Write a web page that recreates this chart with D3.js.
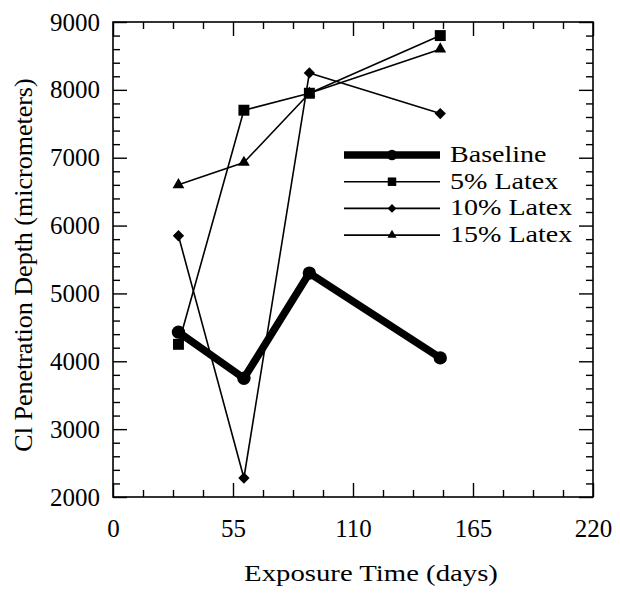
<!DOCTYPE html>
<html><head><meta charset="utf-8">
<script src="https://cdn.jsdelivr.net/npm/d3@7"></script>
<style>
html,body{margin:0;padding:0;background:#fff;}
svg text{font-family:"Liberation Serif","DejaVu Serif",serif;fill:#000;}
</style></head>
<body><svg id="c" width="620" height="597"></svg>
<script>
const days = [30, 60, 90, 150];
const baseline = [4430, 3750, 5300, 4050];
const latex5 = [4250, 7700, 7950, 8800];
const latex10 = [5850, 2280, 8250, 7650];
const latex15 = [6600, 6930, 7950, 8600];
const seriesNames = ["Baseline", "5% Latex", "10% Latex", "15% Latex"];
const xTicks = [0, 55, 110, 165, 220];
const yTicks = [2000, 3000, 4000, 5000, 6000, 7000, 8000, 9000];

const svg = d3.select("#c");
const L = 113, R = 593, T = 22, B = 497;
const x = d3.scaleLinear().domain([0, 220]).range([L, R]);
const y = d3.scaleLinear().domain([2000, 9000]).range([B, T]);

const xMinor = d3.range(0, 220.01, 13.75).filter(v => !xTicks.includes(v));
const yMinor = d3.range(2000, 9000.1, 200).filter(v => v % 1000 !== 0);

function styleAxis(g){ g.select(".domain").remove(); g.selectAll("line").attr("stroke","#000").attr("stroke-width",1.4); }

// bottom
svg.append("g").attr("transform",`translate(0,${B})`)
  .call(d3.axisBottom(x).tickValues(xTicks).tickSize(-14).tickPadding(22).tickFormat(d3.format("d")))
  .call(styleAxis).selectAll("text").attr("font-size",25);
svg.append("g").attr("transform",`translate(0,${B})`)
  .call(d3.axisBottom(x).tickValues(xMinor).tickSize(-7).tickFormat(""))
  .call(styleAxis);
// top
svg.append("g").attr("transform",`translate(0,${T})`)
  .call(d3.axisTop(x).tickValues(xTicks).tickSize(-14).tickFormat(""))
  .call(styleAxis);
svg.append("g").attr("transform",`translate(0,${T})`)
  .call(d3.axisTop(x).tickValues(xMinor).tickSize(-7).tickFormat(""))
  .call(styleAxis);
// left
svg.append("g").attr("transform",`translate(${L},0)`)
  .call(d3.axisLeft(y).tickValues(yTicks).tickSize(-14).tickPadding(13).tickFormat(d3.format("d")))
  .call(styleAxis).selectAll("text").attr("font-size",25);
svg.append("g").attr("transform",`translate(${L},0)`)
  .call(d3.axisLeft(y).tickValues(yMinor).tickSize(-7).tickFormat(""))
  .call(styleAxis);
// right
svg.append("g").attr("transform",`translate(${R},0)`)
  .call(d3.axisRight(y).tickValues(yTicks).tickSize(-14).tickFormat(""))
  .call(styleAxis);
svg.append("g").attr("transform",`translate(${R},0)`)
  .call(d3.axisRight(y).tickValues(yMinor).tickSize(-7).tickFormat(""))
  .call(styleAxis);

// frame
svg.append("rect").attr("x",L).attr("y",T).attr("width",R-L).attr("height",B-T)
  .attr("fill","none").attr("stroke","#000").attr("stroke-width",1.6);

// axis titles
svg.append("g").attr("transform",`translate(371,581) scale(1.25,1)`)
  .append("text").attr("text-anchor","middle").attr("font-size",23).text("Exposure Time (days)");
svg.append("text").attr("transform",`translate(32,265) rotate(-90)`).attr("text-anchor","middle")
  .attr("font-size",26).text("Cl Penetration Depth (micrometers)");

const diamond = {draw(ctx, size){ const r = Math.sqrt(size/2); ctx.moveTo(0,-r); ctx.lineTo(r,0); ctx.lineTo(0,r); ctx.lineTo(-r,0); ctx.closePath(); }};

const series = [
  {name: seriesNames[0], vals: baseline, width: 7.5, sym: d3.symbolCircle, size: 140},
  {name: seriesNames[1], vals: latex5, width: 1.6, sym: d3.symbolSquare, size: 120},
  {name: seriesNames[2], vals: latex10, width: 1.6, sym: diamond, size: 64},
  {name: seriesNames[3], vals: latex15, width: 1.6, sym: d3.symbolTriangle, size: 60},
];
const line = d3.line().x((d,i)=>x(days[i])).y(d=>y(d));
[1,2,3,0].forEach(k=>{
  const s = series[k];
  const g = svg.append("g");
  g.append("path").datum(s.vals).attr("d",line).attr("fill","none")
    .attr("stroke","#000").attr("stroke-width",s.width).attr("stroke-linejoin","round").attr("stroke-linecap","round");
  g.selectAll("path.m").data(s.vals).join("path").attr("class","m")
    .attr("transform",(d,i)=>`translate(${x(days[i])},${y(d)})`)
    .attr("d",d3.symbol().type(s.sym).size(s.size)).attr("fill","#000");
});

// legend
const lg = svg.append("g");
series.forEach((s,i)=>{
  const yy = 155 + i*26.7;
  lg.append("line").attr("x1",344).attr("x2",440).attr("y1",yy).attr("y2",yy)
    .attr("stroke","#000").attr("stroke-width",s.width);
  lg.append("path").attr("transform",`translate(392,${yy})`)
    .attr("d",d3.symbol().type(s.sym).size(s.size*0.6)).attr("fill","#000");
  lg.append("g").attr("transform",`translate(450,${yy}) scale(1.22,1)`)
    .append("text").attr("dy","0.3em").attr("font-size",23).text(s.name);
});
</script></body></html>
